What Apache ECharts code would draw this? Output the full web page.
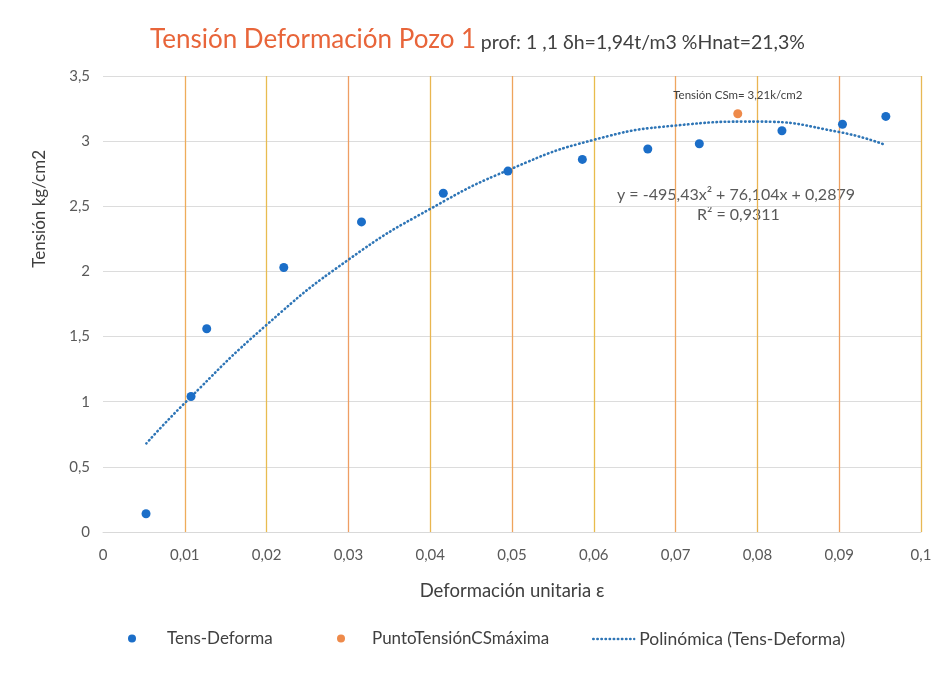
<!DOCTYPE html>
<html>
<head>
<meta charset="utf-8">
<script src="https://cdn.jsdelivr.net/npm/echarts@6/dist/echarts.min.js"></script>
<style>
  html, body { margin: 0; padding: 0; background: #ffffff; }
  #chart { width: 948px; height: 676px; }
</style>
</head>
<body>
<div id="chart"></div>
<script>
// Ensayo tensión-deformación, Pozo 1
const strain = [0.00526, 0.01076, 0.01268, 0.0221, 0.0316, 0.0416, 0.0495, 0.0586, 0.0666, 0.0729, 0.0830, 0.0904, 0.0957];
const stress = [0.14, 1.04, 1.56, 2.03, 2.38, 2.60, 2.77, 2.86, 2.94, 2.98, 3.08, 3.13, 3.19];

// Punto de tensión máxima
const peakStrain = [0.0776];
const peakStress = [3.21];

// Curva de ajuste polinómico
const trendStrain = [0.0053, 0.01, 0.02, 0.03, 0.04, 0.05, 0.06, 0.07, 0.08, 0.09, 0.0957];
const trendStress = [0.68, 0.99, 1.59, 2.09, 2.48, 2.79, 3.01, 3.12, 3.15, 3.07, 2.97];

const seriesNames = ['Tens-Deforma', 'PuntoTensiónCSmáxima', 'Polinómica (Tens-Deforma)'];
const equationLines = ['y = -495,43x² + 76,104x + 0,2879', 'R² = 0,9311'];
const peakLabel = 'Tensión CSm= 3,21k/cm2';

const FONT = 'Lato';
const TEXT = '#404040';
const TICK = '#595959';
const comma = v => String(v).replace('.', ',');
const pairs = (xs, ys) => xs.map((x, i) => [x, ys[i]]);
const DOTS = [0.5, 3.6];

const chart = echarts.init(document.getElementById('chart'), null, { renderer: 'canvas' });

chart.setOption({
  backgroundColor: '#ffffff',
  animation: false,
  textStyle: { fontFamily: FONT },
  title: {
    left: 150,
    top: 27,
    padding: 0,
    text: '{a|Tensión Deformación Pozo 1} {b|prof: 1 ,1 δh=1,94t/m3 %Hnat=21,3%}',
    textStyle: {
      fontWeight: 'normal',
      rich: {
        a: { fontFamily: FONT, fontSize: 26, fontWeight: 'normal', color: '#e8653a', verticalAlign: 'bottom' },
        b: { fontFamily: FONT, fontSize: 19.5, fontWeight: 'normal', color: TEXT, verticalAlign: 'bottom' }
      }
    }
  },
  grid: { left: 103, right: 27, top: 76, bottom: 144, containLabel: false },
  xAxis: {
    type: 'value',
    min: 0,
    max: 0.1,
    interval: 0.01,
    name: 'Deformación unitaria ε',
    nameLocation: 'middle',
    nameGap: 50,
    nameTextStyle: { fontFamily: FONT, fontSize: 18.5, color: TEXT },
    axisLine: { show: true, lineStyle: { color: '#d9d9d9' } },
    axisTick: { show: false },
    axisLabel: { margin: 16, fontSize: 15, color: TICK, formatter: v => comma(+v.toFixed(2)) },
    splitLine: {
      show: true,
      lineStyle: {
        width: 1.3,
        color: ['rgba(0,0,0,0)', '#eeac5a', '#e8bc50', '#ee9e64', '#e9b650', '#eea45c',
                '#e8bc4c', '#eea660', '#eab452', '#eda062', '#e7b854']
      }
    }
  },
  yAxis: {
    type: 'value',
    min: 0,
    max: 3.5,
    interval: 0.5,
    axisLine: { show: false },
    axisTick: { show: false },
    axisLabel: { margin: 13, fontSize: 15, color: TICK, formatter: v => comma(v) },
    splitLine: { show: true, lineStyle: { color: '#dcdcdc', width: 1 } }
  },
  legend: [
    {
      data: [seriesNames[0]], left: 128, top: 630, padding: 0, icon: 'circle',
      itemWidth: 8, itemHeight: 8,
      textStyle: { fontFamily: FONT, fontSize: 17, color: TEXT, padding: [0, 0, 0, 26] }
    },
    {
      data: [seriesNames[1]], left: 337, top: 630, padding: 0, icon: 'circle',
      itemWidth: 8, itemHeight: 8,
      textStyle: { fontFamily: FONT, fontSize: 17, color: TEXT, padding: [0, 0, 0, 22] }
    },
    {
      data: [seriesNames[2]], left: 592, top: 630, padding: 0,
      itemWidth: 41, itemHeight: 8,
      itemStyle: { opacity: 0 },
      lineStyle: { color: '#2e75b6', width: 2.4, type: DOTS, cap: 'round' },
      textStyle: { fontFamily: FONT, fontSize: 17.5, color: TEXT }
    }
  ],
  graphic: [
    {
      type: 'text', left: 31, top: 150, rotation: Math.PI / 2,
      style: { text: 'Tensión kg/cm2', fontFamily: FONT, fontSize: 17, fill: TEXT }
    },
    {
      type: 'text', left: 617, top: 187,
      style: { text: equationLines[0], fontFamily: FONT, fontSize: 16, fill: TICK }
    },
    {
      type: 'text', left: 697, top: 207,
      style: { text: equationLines[1], fontFamily: FONT, fontSize: 16, fill: TICK }
    }
  ],
  series: [
    {
      name: seriesNames[2],
      type: 'line',
      data: pairs(trendStrain, trendStress),
      smooth: true,
      symbol: 'none',
      z: 2,
      color: '#2e75b6',
      lineStyle: { color: '#2e75b6', width: 2.6, type: DOTS, cap: 'round' }
    },
    {
      name: seriesNames[0],
      type: 'scatter',
      data: pairs(strain, stress),
      symbolSize: 9,
      z: 3,
      itemStyle: { color: '#1b6ec8', opacity: 1 }
    },
    {
      name: seriesNames[1],
      type: 'scatter',
      data: pairs(peakStrain, peakStress),
      symbolSize: 9,
      z: 4,
      itemStyle: { color: '#ee8a4a', opacity: 1 },
      label: {
        show: true,
        position: 'top',
        distance: 8,
        formatter: peakLabel,
        fontFamily: FONT,
        fontSize: 11.5,
        color: TEXT
      }
    }
  ]
});
</script>
</body>
</html>
